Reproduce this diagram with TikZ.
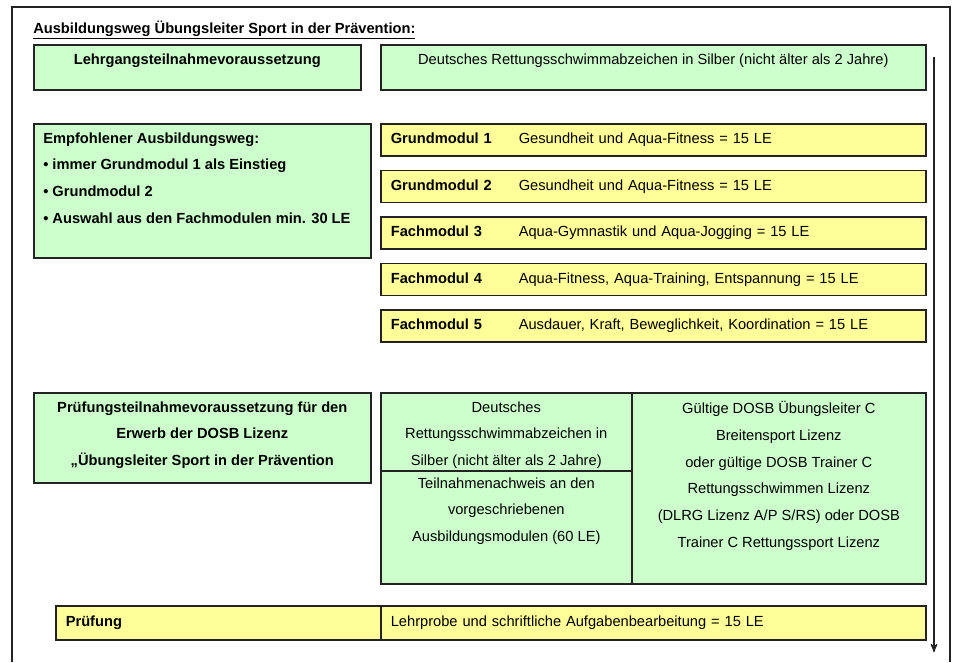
\documentclass[tikz,border=0pt]{standalone}
\usepackage{fontspec}
\setmainfont{Liberation Sans}
\usetikzlibrary{arrows,positioning}
\definecolor{boxgreen}{RGB}{204,255,204}
\definecolor{boxyellow}{RGB}{255,255,153}
\definecolor{rim}{RGB}{35,35,35}
\tikzset{
    %Define standard arrow tip
    >=stealth',
    %Define style for boxes
    gruen/.style={
           rectangle,
           draw=rim, line width=1.2pt,
           fill=boxgreen,
           inner sep=0pt,
           anchor=north west},
    gelb/.style={
           rectangle,
           draw=rim, line width=1.2pt,
           fill=boxyellow,
           inner xsep=7.5pt,
           inner ysep=0pt,
           text width=393.75pt,
           text height=8pt,
           text depth=2.5pt,
           minimum height=24pt,
           align=left,
           anchor=north west,
           font=\fontsize{11}{13}\selectfont},
    % Define style for texts in the boxes
    txt/.style={
           inner sep=0pt,
           align=center,
           font=\fontsize{11}{20}\selectfont},
    pfeil/.style={
           ->,
           draw=rim,
           line width=1.1pt}
}
\newcommand{\modul}[2]{\makebox[96pt][l]{\bfseries #1}#2}

\begin{document}
\begin{tikzpicture}[x=0.75pt,y=-0.75pt]
\useasboundingbox (0,0) rectangle (954,662);
% frame
\draw[rim, line width=1.5pt] (12,662) -- (12,7) -- (950,7) -- (950,662);
\node[anchor=base west, inner sep=0pt, font=\fontsize{11}{13}\selectfont\bfseries](titel) at (33,33)
  {\underline{Ausbildungsweg Übungsleiter Sport in der Prävention:}};
% first row
\node[gruen, minimum width=245.25pt, minimum height=33.75pt](lehrgang) at (33,44) {};
\node[txt, font=\fontsize{11}{20}\selectfont\bfseries, below=7pt of lehrgang.north](lehrgang-txt)
  {Lehrgangsteilnahmevoraussetzung};
\node[gruen, minimum width=408.75pt, minimum height=33.75pt](abzeichen) at (380,44) {};
\node[txt, below=7pt of abzeichen.north](abzeichen-txt)
  {Deutsches Rettungsschwimmabzeichen in Silber (nicht älter als 2 Jahre)};
% modules
\node[gruen, minimum width=252.75pt, minimum height=100.5pt](weg) at (33,123) {};
\node[txt, align=left, font=\fontsize{11}{20}\selectfont\bfseries,
  below right=7pt and 7.5pt of weg.north west](weg-txt)
  {Empfohlener Ausbildungsweg:\\
   \textbullet\ immer Grundmodul 1 als Einstieg\\
   \textbullet\ Grundmodul 2\\
   \textbullet\ Auswahl aus den Fachmodulen min. 30 LE};
\node[gelb](gm1) at (380,123) {\modul{Grundmodul 1}{Gesundheit und Aqua-Fitness = 15 LE}};
\node[gelb, below=9.75pt of gm1](gm2) {\modul{Grundmodul 2}{Gesundheit und Aqua-Fitness = 15 LE}};
\node[gelb, below=9.75pt of gm2](fm3) {\modul{Fachmodul 3}{Aqua-Gymnastik und Aqua-Jogging = 15 LE}};
\node[gelb, below=9.75pt of fm3](fm4) {\modul{Fachmodul 4}{Aqua-Fitness, Aqua-Training, Entspannung = 15 LE}};
\node[gelb, below=9.75pt of fm4](fm5) {\modul{Fachmodul 5}{Ausdauer, Kraft, Beweglichkeit, Koordination = 15 LE}};
% exam requirements
\node[gruen, minimum width=252.75pt, minimum height=67.5pt](pvor) at (33,392) {};
\node[txt, font=\fontsize{11}{20}\selectfont\bfseries, below=7pt of pvor.north](pvor-txt)
  {Prüfungsteilnahmevoraussetzung für den\\
   Erwerb der DOSB Lizenz\\
   „Übungsleiter Sport in der Prävention};
\node[gruen, minimum width=188.25pt, minimum height=58.5pt](silber) at (380,392) {};
\node[txt, below=7pt of silber.north](silber-txt)
  {Deutsches\\ Rettungsschwimmabzeichen in\\ Silber (nicht älter als 2 Jahre)};
\node[gruen, minimum width=188.25pt, minimum height=84.75pt](nachweis) at (380,470) {};
\node[txt, below=5.5pt of nachweis.north](nachweis-txt)
  {Teilnahmenachweis an den\\ vorgeschriebenen\\ Ausbildungsmodulen (60 LE)};
\node[gruen, minimum width=220.5pt, minimum height=143.25pt](lizenz) at (631,392) {};
\node[txt, below=7pt of lizenz.north](lizenz-txt)
  {Gültige DOSB Übungsleiter C\\ Breitensport Lizenz\\ oder gültige DOSB Trainer C\\
   Rettungsschwimmen Lizenz\\ (DLRG Lizenz A/P S/RS) oder DOSB\\ Trainer C Rettungssport Lizenz};
% exam
\node[gelb, text width=228.75pt, minimum height=25.5pt](pruefung) at (55,605) {\bfseries Prüfung};
\node[gelb, minimum height=25.5pt](lehrprobe) at (380,605)
  {Lehrprobe und schriftliche Aufgabenbearbeitung = 15 LE};
% time line
\coordinate (pfeil-a) at (934,57);
\coordinate (pfeil-b) at (934,652);
\draw[pfeil] (pfeil-a) -- (pfeil-b);
\end{tikzpicture}
\end{document}
